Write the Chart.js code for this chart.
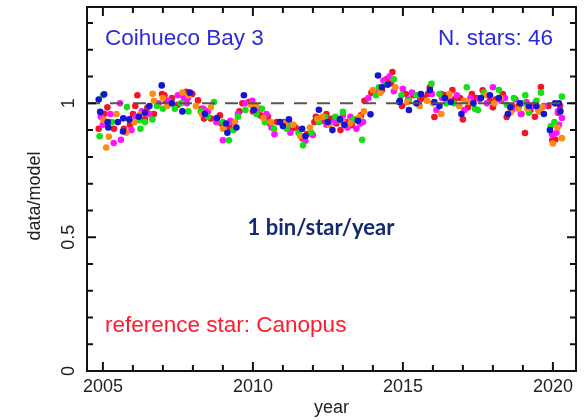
<!DOCTYPE html>
<html>
<head>
<meta charset="utf-8">
<script src="https://cdn.jsdelivr.net/npm/chart.js@4.4.0/dist/chart.umd.min.js"></script>
<style>
  html, body { margin: 0; padding: 0; background: #fff; }
  #wrap { width: 586px; height: 420px; }
</style>
</head>
<body>
<div id="wrap"><canvas id="grafico" width="586" height="420"></canvas></div>
<script>
// ================= DADOS (ano, data/model) =================
const blueStars = [
  [2004.86,1.014],[2005.04,1.034],[2004.91,0.968],[2005.16,0.93],[2005.18,0.91],[2005.68,0.944],
  [2005.67,0.895],[2005.88,0.94],[2006.4,0.965],[2006.55,0.99],[2006.96,1.067],[2007.65,0.97],
  [2007.9,1.04],[2008.4,0.96],[2009.1,0.925],[2009.15,0.89],[2009.45,0.91],[2009.7,1.03],
  [2010.03,0.975],[2010.9,0.93],[2011.2,0.94],[2011.64,0.905],[2011.75,0.878],[2012.2,0.976],
  [2012.5,0.93],[2012.65,0.90],[2013.05,0.92],[2013.5,0.935],[2013.92,0.959],[2014.17,1.104],
  [2014.5,1.07],[2014.88,1.005],[2014.9,1.01],[2015.2,0.975],[2015.6,1.035],[2015.9,1.05],
  [2016.05,1.005],[2016.22,0.99],[2016.6,1.005],[2016.95,0.96],[2017.6,1.02],[2017.9,1.03],
  [2018.5,0.96],[2018.58,0.985],[2019.45,0.99],[2019.7,0.96],[2019.9,0.9],[2020.07,1.0],[2020.2,1.0],
  [2005.5,0.93],[2006.2,0.95],[2007.3,1.0],[2008.8,0.945],[2011.0,0.915],[2012.9,0.94],
  [2014.3,1.06],[2015.45,1.0],[2016.4,1.02],[2017.35,1.0],[2018.2,1.02],[2018.9,1.0],
  [2019.2,0.99],[2020.25,0.97]
];
const redStars = [
  [2005.04,0.961],[2004.86,0.905],[2005.37,0.905],[2005.7,0.905],[2006.0,0.96],[2006.08,0.99],
  [2006.15,1.03],[2006.48,0.983],[2006.7,0.96],[2006.97,1.035],[2007.05,1.03],[2007.1,1.01],
  [2007.5,0.995],[2007.78,1.043],[2007.98,1.035],[2008.17,1.011],[2008.45,0.96],[2008.37,0.943],
  [2008.6,0.943],[2008.9,0.955],[2008.95,0.925],[2009.22,0.91],[2009.55,0.97],[2009.65,1.0],
  [2009.87,1.005],[2010.1,0.985],[2010.25,0.955],[2010.5,0.95],[2010.57,0.925],[2010.8,0.93],
  [2011.03,0.93],[2011.3,0.905],[2011.42,0.91],[2011.65,0.87],[2011.8,0.885],[2012.05,0.93],
  [2012.1,0.95],[2012.33,0.935],[2012.6,0.942],[2012.78,0.925],[2012.92,0.90],[2013.1,0.93],
  [2013.3,0.918],[2013.6,0.955],[2013.72,1.01],[2013.95,1.04],[2014.65,1.117],[2014.6,1.075],
  [2014.97,0.99],[2015.1,1.035],[2015.35,1.03],[2015.58,1.015],[2015.9,1.06],[2015.83,1.035],
  [2016.05,0.949],[2016.28,1.035],[2016.4,1.03],[2016.65,1.05],[2016.72,1.015],[2017.0,0.94],
  [2017.17,0.985],[2017.3,1.035],[2017.66,1.049],[2018.0,0.985],[2018.1,1.015],[2018.33,1.035],
  [2018.46,0.949],[2018.87,0.99],[2018.95,0.96],[2019.07,0.889],[2019.25,0.975],[2019.42,1.0],
  [2019.6,1.061],[2019.98,0.862],[2020.08,0.865],[2020.24,0.99],[2020.17,0.965],
  [2005.15,0.985],[2005.9,0.92],[2006.4,0.94],[2007.3,1.02],[2008.3,0.98],[2009.35,0.93],
  [2010.0,0.97],[2011.55,0.9],[2012.45,0.96],[2013.4,0.94],[2014.3,1.05],[2014.45,1.09],
  [2015.7,1.02],[2016.9,1.02],[2017.45,1.02],[2017.9,1.01],[2018.65,0.99],[2019.4,0.95],[2019.85,0.99]
];
const greenStars = [
  [2005.0,1.03],[2004.89,0.877],[2005.8,0.986],[2006.22,0.937],[2006.25,0.905],[2006.65,0.94],
  [2007.0,0.98],[2007.4,0.98],[2007.85,0.97],[2008.26,0.97],[2008.7,1.005],[2009.0,0.93],
  [2009.2,0.862],[2009.5,0.95],[2009.75,0.975],[2010.12,0.96],[2010.4,0.93],[2010.7,0.905],
  [2011.13,0.905],[2011.52,0.89],[2011.67,0.843],[2011.95,0.89],[2012.4,0.95],[2012.9,0.935],
  [2013.0,0.968],[2013.64,0.864],[2014.1,1.03],[2014.2,1.06],[2014.7,1.09],[2014.95,1.03],
  [2015.45,1.03],[2015.95,1.073],[2016.22,1.035],[2016.45,1.0],[2017.13,1.06],[2017.4,0.98],
  [2017.5,0.975],[2018.2,1.05],[2018.47,0.995],[2019.0,1.0],[2019.08,1.03],[2019.2,0.965],
  [2019.6,1.04],[2019.93,0.914],[2020.3,1.025],
  [2005.3,0.93],[2006.4,0.93],[2006.8,0.99],[2007.6,1.0],[2008.5,0.95],[2009.35,0.9],
  [2010.3,0.98],[2011.3,0.92],[2012.2,0.93],[2012.75,0.95],[2013.35,0.94],[2014.45,1.07],
  [2015.2,1.01],[2016.7,1.0],[2017.7,1.04],[2018.7,1.02],[2019.45,1.01],[2020.05,0.93]
];
const magentaStars = [
  [2004.93,0.95],[2005.0,0.92],[2005.36,0.852],[2005.57,1.0],[2005.6,0.864],[2005.95,0.90],
  [2006.3,0.97],[2006.55,0.96],[2007.2,1.01],[2007.7,1.02],[2007.83,1.02],[2007.8,1.0],
  [2008.35,0.98],[2008.78,0.93],[2009.0,0.862],[2009.25,0.935],[2009.75,1.0],[2009.98,1.01],
  [2010.2,0.98],[2010.62,0.91],[2010.72,0.885],[2011.25,0.89],[2011.75,0.86],[2012.0,0.882],
  [2012.22,0.942],[2012.45,0.92],[2013.0,0.955],[2013.15,0.91],[2013.45,0.905],[2013.58,0.925],
  [2013.67,0.93],[2013.85,1.02],[2014.15,1.04],[2014.35,1.085],[2014.7,1.045],[2015.0,1.054],
  [2015.18,1.015],[2015.5,1.0],[2015.97,1.035],[2016.12,0.975],[2016.55,1.01],[2017.05,0.975],
  [2017.25,1.02],[2017.55,1.015],[2018.0,1.06],[2018.27,1.01],[2018.63,0.975],[2018.75,1.015],
  [2018.93,0.96],[2019.12,1.005],[2019.52,0.975],[2019.7,0.99],[2019.97,0.885],[2020.12,0.89],
  [2020.17,0.97],[2020.3,0.945],
  [2005.25,0.96],[2006.1,0.95],[2006.85,1.0],[2007.5,1.03],[2008.5,0.97],[2009.5,0.96],
  [2010.45,0.96],[2011.1,0.92],[2012.7,0.93],[2013.25,0.95],[2014.55,1.1],[2015.3,1.04],
  [2016.3,1.02],[2016.8,1.03],[2017.8,1.0],[2018.4,1.02],[2019.3,0.99],[2020.2,0.92]
];
const orangeStars = [
  [2005.02,0.939],[2005.2,0.875],[2005.11,0.835],[2005.78,0.89],[2006.25,0.96],[2006.66,1.036],
  [2006.7,1.01],[2007.15,0.99],[2007.65,1.04],[2008.1,0.99],[2008.6,0.985],[2009.0,0.905],
  [2009.93,0.995],[2010.35,0.945],[2011.08,0.925],[2011.58,0.878],[2011.9,0.91],[2012.15,0.942],
  [2012.55,0.92],[2013.25,0.925],[2013.55,0.95],[2013.7,0.97],[2014.0,1.05],[2015.15,1.005],
  [2015.56,0.99],[2016.0,1.0],[2016.28,0.96],[2016.55,1.035],[2016.88,0.99],[2017.2,1.005],
  [2017.77,1.03],[2018.05,1.0],[2018.58,0.965],[2019.15,0.98],[2019.65,0.985],[2020.0,0.85],
  [2020.3,0.87],
  [2005.45,0.96],[2006.05,0.93],[2007.0,1.02],[2007.85,1.03],[2008.3,0.96],[2009.4,0.93],
  [2010.1,0.99],[2010.6,0.93],[2011.35,0.92],[2012.3,0.95],[2013.0,0.93],[2014.25,1.04],
  [2014.75,1.06],[2015.8,1.01],[2016.45,1.02],[2017.05,1.01],[2018.25,1.02],[2018.85,0.98],
  [2019.55,0.97],[2020.15,0.91]
];

const yearLabels = [2005, 2010, 2015, 2020];
const ratioLabels = [0, 0.5, 1];
const refLevel = 1;
const yearRange = [2004.47, 2020.77];
const ratioRange = [0, 1.36];

// ================= MOLDURA, TICKS E TEXTOS =================
const moldura = {
  id: 'moldura',
  afterDatasetsDraw(chart) {
    const { ctx, chartArea: a, scales: { x, y } } = chart;
    ctx.save();
    ctx.strokeStyle = '#111';
    ctx.lineWidth = 2;
    ctx.strokeRect(a.left, a.top, a.right - a.left, a.bottom - a.top);

    // ticks para dentro nos quatro lados
    x.ticks.forEach(t => {
      const px = x.getPixelForValue(t.value);
      const len = yearLabels.includes(Math.round(t.value)) ? 9 : 6;
      ctx.beginPath();
      ctx.moveTo(px, a.bottom); ctx.lineTo(px, a.bottom - len);
      ctx.moveTo(px, a.top); ctx.lineTo(px, a.top + len);
      ctx.stroke();
    });
    y.ticks.forEach(t => {
      const py = y.getPixelForValue(t.value);
      const major = ratioLabels.some(v => Math.abs(v - t.value) < 1e-6);
      const len = major ? 9 : 6;
      ctx.beginPath();
      ctx.moveTo(a.left, py); ctx.lineTo(a.left + len, py);
      ctx.moveTo(a.right, py); ctx.lineTo(a.right - len, py);
      ctx.stroke();
    });

    // rótulos do eixo y, girados
    ctx.fillStyle = '#222';
    ctx.font = '18px "Liberation Sans", Arial, sans-serif';
    ctx.textAlign = 'center';
    ctx.textBaseline = 'middle';
    ratioLabels.forEach(v => {
      ctx.save();
      ctx.translate(69, y.getPixelForValue(v));
      ctx.rotate(-Math.PI / 2);
      ctx.fillText(String(v), 0, 0);
      ctx.restore();
    });

    // título do eixo y
    ctx.save();
    ctx.translate(35, 196);
    ctx.rotate(-Math.PI / 2);
    ctx.fillText('data/model', 0, 0);
    ctx.restore();

    // anotações
    ctx.font = '22.5px "Liberation Sans", Arial, sans-serif';
    ctx.fillStyle = '#2b2bdc';
    ctx.textAlign = 'left';
    ctx.fillText('Coihueco Bay 3', 105, 39);
    ctx.textAlign = 'right';
    ctx.fillText('N. stars: 46', 553, 39);

    ctx.fillStyle = '#ff1a2e';
    ctx.textAlign = 'left';
    ctx.fillText('reference star: Canopus', 105, 326);

    ctx.fillStyle = '#142a6e';
    ctx.textAlign = 'center';
    ctx.font = 'bold 22px Lato, "Open Sans", sans-serif';
    ctx.fillText('1 bin/star/year', 321, 228);
    ctx.restore();
  }
};

// ================= GRÁFICO =================
const ctx = document.getElementById('grafico');

function pontos(lista) {
  return lista.map(p => ({ x: p[0], y: p[1] }));
}

function serie(lista, cor) {
  return {
    type: 'scatter',
    data: pontos(lista),
    backgroundColor: cor,
    borderWidth: 0,
    pointRadius: 3.3,
    order: 1
  };
}

new Chart(ctx, {
  type: 'scatter',
  data: {
    datasets: [
      {
        type: 'line',
        data: [{ x: yearRange[0], y: refLevel }, { x: yearRange[1], y: refLevel }],
        borderColor: '#555',
        borderWidth: 2,
        borderDash: [13, 10],
        pointRadius: 0,
        fill: false,
        order: 0
      },
      serie(blueStars, '#1414d2'),
      serie(orangeStars, '#ff8a14'),
      serie(greenStars, '#14e014'),
      serie(magentaStars, '#ff14ff'),
      serie(redStars, '#f2142a')
    ]
  },
  plugins: [moldura],
  options: {
    responsive: false,
    animation: false,
    devicePixelRatio: 1,
    events: [],
    layout: { padding: { top: 7, right: 10, left: 0, bottom: 0 } },
    plugins: { legend: { display: false }, tooltip: { enabled: false } },
    scales: {
      x: {
        type: 'linear',
        min: yearRange[0],
        max: yearRange[1],
        grid: { display: false },
        border: { display: false },
        afterFit: s => { s.height = 49; },
        ticks: {
          stepSize: 1,
          includeBounds: false,
          autoSkip: false,
          maxRotation: 0,
          padding: -3,
          color: '#222',
          font: { family: '"Liberation Sans", Arial, sans-serif', size: 18 },
          callback: v => (yearLabels.includes(Math.round(v)) ? String(Math.round(v)) : '')
        },
        title: {
          display: true,
          text: 'year',
          color: '#222',
          font: { family: '"Liberation Sans", Arial, sans-serif', size: 18 },
          padding: { top: 0, bottom: 1 }
        }
      },
      y: {
        min: ratioRange[0],
        max: ratioRange[1],
        grid: { display: false },
        border: { display: false },
        afterFit: s => { s.width = 87; },
        ticks: { stepSize: 0.1, includeBounds: false, display: false },
        title: { display: false }
      }
    }
  }
});
</script>
</body>
</html>
